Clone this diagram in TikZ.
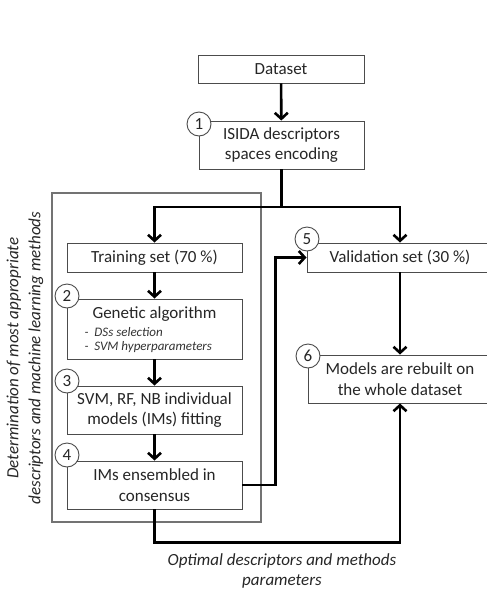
\documentclass[tikz,border=0pt]{standalone}
\usepackage{fontspec}
\setmainfont{Carlito}
\usetikzlibrary{arrows.meta,calc}
\begin{document}
\begin{tikzpicture}[x=1pt,y=-1pt,
  every node/.style={font=\fontsize{17}{20.5}\selectfont, text=black!85},
  box/.style={draw=black!70, line width=0.9pt, fill=white, inner sep=0pt, align=center},
  num/.style={circle, draw=black!70, line width=0.9pt, fill=white, minimum size=24pt, inner sep=0pt},
  flow/.style={line width=2.6pt, -{Straight Barb[length=6pt,width=13pt]}},
  flowline/.style={line width=2.6pt},
  note/.style={font=\fontsize{13}{15}\selectfont\itshape, text=black!80}
]
\useasboundingbox (0,0) rectangle (487,592);
\clip (0,0) rectangle (487,592);
% outer frame
\draw[draw=black!55, line width=1.1pt] (52,193) rectangle (261,522);
% boxes
\node[box, minimum width=166pt, minimum height=28pt] (dataset) at (281,69) {Dataset};
\node[box, minimum width=165pt, minimum height=48pt] (isida) at (281.5,145) {ISIDA descriptors\\spaces encoding};
\node[box, minimum width=175pt, minimum height=29pt] (train) at (154.5,257.5) {Training set (70 \%)};
\node[box, minimum width=175pt, minimum height=60pt] (gen) at (154.5,329) {};
\node (gentitle) at (154.5,314) {Genetic algorithm};
\node[note, anchor=west] (gen1) at (81,332) {-\ \ DSs selection};
\node[note, anchor=west] (gen2) at (81,347) {-\ \ SVM hyperparameters};
\node[box, minimum width=175pt, minimum height=48pt] (svm) at (154.5,410) {SVM, RF, NB individual\\models (IMs) fitting};
\node[box, minimum width=175pt, minimum height=48pt] (ims) at (154.5,485) {IMs ensembled in\\consensus};
\node[box, minimum width=186pt, minimum height=29pt] (val) at (400,257.5) {Validation set (30 \%)};
\node[box, minimum width=184pt, minimum height=48pt] (models) at (400,379) {Models are rebuilt on\\the whole dataset};
% side label
\node[rotate=90, align=center, font=\fontsize{17}{22}\selectfont\itshape] (side) at (25,358)
  {Determination of most appropriate\\descriptors and machine learning methods};
% bottom label
\node[align=center, font=\fontsize{17}{20}\selectfont\itshape] (bottom) at (282,571)
  {Optimal descriptors and methods\\parameters};
% connectors
\coordinate (split) at (281.5,207);
\draw[flow] (dataset) -- (isida);
\draw[flowline] (isida.south) -- (split);
\draw[flow] (split) -| (train.north);
\draw[flow] (split) -| (val.north);
\draw[flow] (train) -- (gen);
\draw[flow] (gen) -- (svm);
\draw[flow] (svm) -- (ims);
\draw[flow] (ims.east) -- ++(33,0) |- (val.west);
\draw[flow] (val) -- (models);
\draw[flow] (ims.south) -- ++(0,33) -| (models.south);
% numbers
\node[num] (n1) at (199,124) {1};
\node[num] (n2) at (67,296) {2};
\node[num] (n3) at (67,381) {3};
\node[num] (n4) at (67,455) {4};
\node[num] (n5) at (307,239) {5};
\node[num] (n6) at (308,356) {6};
\end{tikzpicture}
\end{document}
